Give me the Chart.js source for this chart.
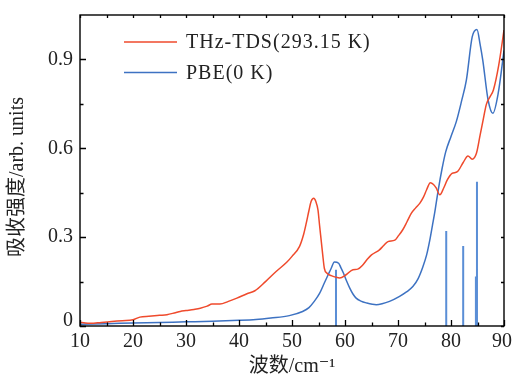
<!DOCTYPE html>
<html>
<head>
<meta charset="utf-8">
<script src="https://cdn.jsdelivr.net/npm/chart.js@4.4.1/dist/chart.umd.min.js"></script>
<style>
  html, body { margin: 0; padding: 0; background: #ffffff; }
  #wrap { width: 512px; height: 379px; position: relative; }
</style>
</head>
<body>
<div id="wrap"><canvas id="c" width="512" height="379"></canvas></div>
<script>
// ---------------- data ----------------
const xTicks = [10, 20, 30, 40, 50, 60, 70, 80, 90];
const xMinorTicks = [15, 25, 35, 45, 55, 65, 75, 85];
const yTicks = [0, 0.3, 0.6, 0.9];
const yTickLabels = ['0', '0.3', '0.6', '0.9'];
const yMinorTicks = [0.15, 0.45, 0.75];

const seriesNames = ['THz-TDS(293.15 K)', 'PBE(0 K)'];
const xTitle = '波数/cm⁻¹';
const yTitle = '吸收强度/arb. units';

const thzX = [10, 11, 12, 14, 16, 18, 20, 21.3, 23, 25, 26.4, 28, 28.9, 30, 31.5, 32.7, 34, 34.9, 36.4, 38, 39.6, 41.5, 43, 45, 47, 49, 50, 51.4, 52.2, 52.7, 53.2, 53.6, 54.1, 54.5, 54.9, 55.2, 55.5, 55.8, 56.1, 56.6, 57.4, 58.2, 59, 60.2, 61.5, 62.4, 63.4, 64.2, 65, 66.5, 67.2, 68.1, 69.4, 70.1, 70.9, 71.7, 72.5, 73.3, 74.1, 74.8, 75.4, 76.1, 76.7, 77.2, 77.9, 78.6, 79.3, 80.2, 81.2, 82.3, 83.2, 84, 84.8, 85.5, 86, 86.7, 87.4, 88, 89, 90];
const thzY = [0.013, 0.010, 0.009, 0.012, 0.015, 0.018, 0.021, 0.030, 0.033, 0.036, 0.038, 0.045, 0.049, 0.052, 0.056, 0.060, 0.067, 0.074, 0.074, 0.083, 0.094, 0.109, 0.119, 0.150, 0.184, 0.215, 0.235, 0.268, 0.310, 0.348, 0.390, 0.420, 0.431, 0.420, 0.392, 0.340, 0.290, 0.240, 0.195, 0.178, 0.170, 0.165, 0.162, 0.173, 0.190, 0.192, 0.207, 0.225, 0.240, 0.257, 0.270, 0.285, 0.290, 0.305, 0.325, 0.352, 0.380, 0.398, 0.414, 0.435, 0.460, 0.484, 0.478, 0.466, 0.443, 0.465, 0.493, 0.515, 0.521, 0.552, 0.574, 0.563, 0.583, 0.645, 0.690, 0.750, 0.775, 0.797, 0.880, 0.999];

const pbeX = [10, 15, 20, 25, 30, 35, 40, 43.2, 46, 49.5, 52, 53.2, 54.2, 55.2, 56.1, 56.8, 57.4, 58, 58.8, 59.2, 59.7, 60.3, 60.9, 61.5, 62.1, 63, 64, 65.9, 67, 68.4, 70.3, 71.6, 72.8, 73.8, 74.7, 75.4, 76, 76.5, 76.9, 77.6, 78.3, 79, 80, 81, 82, 82.9, 84, 84.9, 85.5, 86, 87, 87.9, 88.9, 90];
const pbeY = [0.006, 0.008, 0.010, 0.012, 0.014, 0.016, 0.019, 0.022, 0.027, 0.035, 0.049, 0.062, 0.083, 0.110, 0.145, 0.172, 0.195, 0.216, 0.212, 0.198, 0.179, 0.152, 0.128, 0.108, 0.094, 0.084, 0.078, 0.072, 0.075, 0.083, 0.100, 0.115, 0.133, 0.160, 0.200, 0.240, 0.290, 0.340, 0.380, 0.460, 0.530, 0.588, 0.640, 0.690, 0.760, 0.830, 0.976, 1.001, 0.950, 0.897, 0.763, 0.718, 0.785, 0.930];

const stickX = [58.3, 79.1, 82.3, 84.7, 84.9];
const stickY = [0.19, 0.321, 0.27, 0.167, 0.487];

// ---------------- styles ----------------
const RED = '#ef4a2c';
const BLUE = '#3d72c2';
const STICK = '#5a8ed6';
const TXT = '#222222';
const SERIF = '"Liberation Serif", "DejaVu Serif", "Noto Sans CJK SC", serif';

const toPts = (xs, ys) => xs.map((x, i) => ({ x: x, y: ys[i] }));
const stickPts = [];
stickX.forEach((x, i) => {
  stickPts.push({ x: x, y: 0 });
  stickPts.push({ x: x, y: stickY[i] });
  stickPts.push({ x: x, y: null });
});

// frame + inward ticks + tick labels + titles + legend
const framePlugin = {
  id: 'frame',
  afterDraw(chart) {
    const { ctx, chartArea: a, scales: { x, y } } = chart;
    const W = chart.width;
    ctx.save();
    ctx.strokeStyle = '#000';
    ctx.lineWidth = 1.4;
    ctx.strokeRect(a.left, a.top, a.right - a.left, a.bottom - a.top);
    ctx.lineWidth = 1.3;
    ctx.beginPath();
    xTicks.forEach(v => {
      const px = Math.round(x.getPixelForValue(v)) + 0.5;
      ctx.moveTo(px, a.bottom); ctx.lineTo(px, a.bottom - 6);
      ctx.moveTo(px, a.top); ctx.lineTo(px, a.top + 3);
    });
    xMinorTicks.forEach(v => {
      const px = Math.round(x.getPixelForValue(v)) + 0.5;
      ctx.moveTo(px, a.bottom); ctx.lineTo(px, a.bottom - 3.5);
      ctx.moveTo(px, a.top); ctx.lineTo(px, a.top + 3);
    });
    yTicks.forEach(v => {
      const py = Math.round(y.getPixelForValue(v)) + 0.5;
      ctx.moveTo(a.left, py); ctx.lineTo(a.left + 6, py);
      ctx.moveTo(a.right, py); ctx.lineTo(a.right - 3, py);
    });
    yMinorTicks.forEach(v => {
      const py = Math.round(y.getPixelForValue(v)) + 0.5;
      ctx.moveTo(a.left, py); ctx.lineTo(a.left + 3.5, py);
      ctx.moveTo(a.right, py); ctx.lineTo(a.right - 3, py);
    });
    ctx.stroke();

    // tick labels
    ctx.fillStyle = TXT;
    ctx.font = '20px ' + SERIF;
    ctx.textBaseline = 'middle';
    ctx.textAlign = 'center';
    xTicks.forEach(v => {
      const s = String(v);
      const w = ctx.measureText(s).width;
      const px = Math.min(x.getPixelForValue(v), W - w / 2);
      ctx.fillText(s, px, a.bottom + 16);
    });
    ctx.textAlign = 'right';
    yTicks.forEach((v, i) => {
      const py = Math.min(y.getPixelForValue(v), a.bottom - 5);
      ctx.fillText(yTickLabels[i], a.left - 7, py);
    });

    // axis titles
    ctx.textAlign = 'center';
    ctx.fillText(xTitle, (a.left + a.right) / 2, 367);
    ctx.save();
    ctx.translate(18, 177);
    ctx.rotate(-Math.PI / 2);
    ctx.fillText(yTitle, 0, 0);
    ctx.restore();

    // legend
    const items = [
      { name: seriesNames[0], color: RED, y: 42 },
      { name: seriesNames[1], color: BLUE, y: 72.5 }
    ];
    ctx.textAlign = 'left';
    items.forEach(it => {
      ctx.strokeStyle = it.color;
      ctx.lineWidth = 1.5;
      ctx.beginPath();
      ctx.moveTo(124, it.y); ctx.lineTo(177, it.y);
      ctx.stroke();
      ctx.fillStyle = TXT;
      try { ctx.letterSpacing = '1px'; } catch (e) {}
      ctx.fillText(it.name, 186, it.y + 1);
      try { ctx.letterSpacing = '0px'; } catch (e) {}
    });
    ctx.restore();
  }
};

new Chart(document.getElementById('c'), {
  type: 'line',
  data: {
    datasets: [
      { label: seriesNames[0], data: toPts(thzX, thzY), borderColor: RED, borderWidth: 1.5,
        pointRadius: 0, fill: false, cubicInterpolationMode: 'monotone' },
      { label: seriesNames[1], data: toPts(pbeX, pbeY), borderColor: BLUE, borderWidth: 1.5,
        pointRadius: 0, fill: false, cubicInterpolationMode: 'monotone' },
      { label: 'sticks', data: stickPts, borderColor: STICK, borderWidth: 2,
        pointRadius: 0, fill: false, spanGaps: false, tension: 0 }
    ]
  },
  options: {
    responsive: false,
    animation: false,
    layout: { padding: { top: 15, right: 8, left: 0, bottom: 0 } },
    plugins: { legend: { display: false }, tooltip: { enabled: false } },
    scales: {
      x: {
        type: 'linear', min: 10, max: 90,
        afterBuildTicks: s => { s.ticks = xTicks.map(v => ({ value: v })); },
        afterFit: s => { s.height = 53; s.paddingLeft = 0; s.paddingRight = 0; },
        grid: { display: false, drawTicks: false },
        border: { display: false },
        ticks: { display: false },
        title: { display: false }
      },
      y: {
        type: 'linear', min: 0, max: 1.05,
        afterBuildTicks: s => { s.ticks = yTicks.map(v => ({ value: v })); },
        afterFit: s => { s.width = 80; s.paddingTop = 0; s.paddingBottom = 0; },
        grid: { display: false, drawTicks: false },
        border: { display: false },
        ticks: { display: false },
        title: { display: false }
      }
    }
  },
  plugins: [framePlugin]
});
</script>
</body>
</html>
